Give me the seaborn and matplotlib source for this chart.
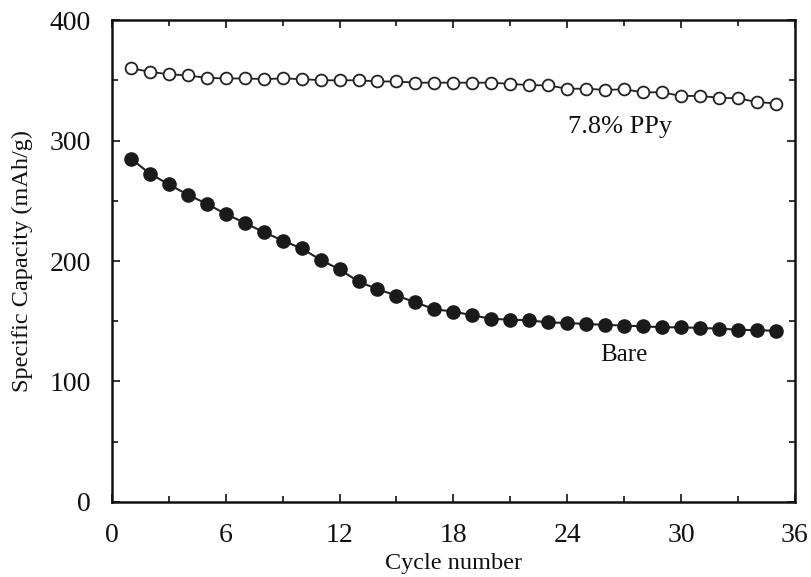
import numpy as np
import pandas as pd
import matplotlib
matplotlib.use("Agg")
import matplotlib.pyplot as plt
import seaborn as sns
from matplotlib.ticker import MultipleLocator

cycles = list(range(1, 36))
ppy_capacity = [360, 357, 355, 354, 352, 351.5, 351.5, 351, 351.5, 351,
                350, 350, 350, 349, 349, 348, 348, 348, 348, 348,
                347, 346, 345.7, 343, 343, 342, 342.5, 340, 340, 337,
                337, 335.5, 335, 332, 330.7]
bare_capacity = [285, 272.5, 263.6, 255, 247.5, 239, 231.7, 224, 217, 210.4,
                 201, 193, 183, 176.6, 171.3, 165.7, 160, 158, 155, 152,
                 151.3, 150.8, 149, 148.6, 147.7, 147, 146.4, 145.8, 145, 145,
                 144.4, 143.9, 143, 142.5, 142.2]
x_ticks = [0, 6, 12, 18, 24, 30, 36]
y_ticks = [0, 100, 200, 300, 400]

sns.set_theme(style="ticks")
plt.rcParams['font.family'] = ['Liberation Serif', 'DejaVu Serif']

fig = plt.figure(figsize=(8.11, 5.77), dpi=100)
ax = fig.add_axes([0.138, 0.130, 0.842, 0.8353])

df_ppy = pd.DataFrame({"cycle": cycles, "cap": ppy_capacity})
df_bare = pd.DataFrame({"cycle": cycles, "cap": bare_capacity})

sns.lineplot(data=df_ppy, x="cycle", y="cap", ax=ax, color="#222222", lw=1.3,
             marker="o", markersize=8.5, markerfacecolor="white",
             markeredgecolor="#222222", markeredgewidth=1.3)
sns.lineplot(data=df_bare, x="cycle", y="cap", ax=ax, color="#222222", lw=1.5,
             marker="o", markersize=9.5, markerfacecolor="#1a1a1a",
             markeredgecolor="#1a1a1a", markeredgewidth=1.0)

ax.set_xlim(0, 36)
ax.set_ylim(0, 400)
ax.set_xticks(x_ticks)
ax.set_yticks(y_ticks)
ax.xaxis.set_minor_locator(MultipleLocator(3))
ax.yaxis.set_minor_locator(MultipleLocator(50))
ax.tick_params(which="both", direction="in", top=True, right=True,
               width=1.2, color="#111111", labelcolor="#111111")
ax.tick_params(which="major", length=6, labelsize=20)
ax.tick_params(axis="x", which="major", pad=15)
ax.tick_params(axis="y", which="major", pad=15)
ax.tick_params(which="minor", length=4)
for s in ax.spines.values():
    s.set_linewidth(1.8)
    s.set_color("#111111")

ax.set_xlabel("Cycle number", fontsize=17.5, labelpad=4, color="#111111")
ax.set_ylabel("Specific Capacity (mAh/g)", fontsize=17.5, labelpad=12, color="#111111")

ax.text(26.8, 311, "7.8% PPy", fontsize=19, ha="center", va="center", color="#111111")
ax.text(27.0, 122, "Bare", fontsize=18, ha="center", va="center", color="#111111")

fig.savefig("out.png", dpi=100)
